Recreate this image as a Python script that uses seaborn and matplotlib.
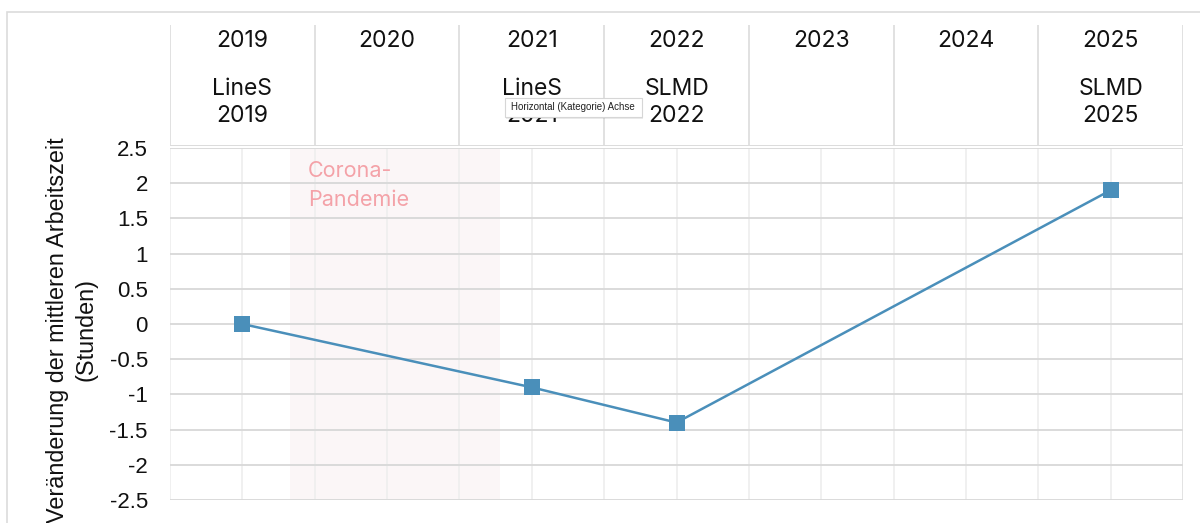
import matplotlib
matplotlib.use("Agg")
import matplotlib.pyplot as plt
from matplotlib.patches import Rectangle, FancyBboxPatch
import seaborn as sns
import pandas as pd

# Categories (survey years) and the survey behind each year
years = ["2019", "2020", "2021", "2022", "2023", "2024", "2025"]
survey_labels = ["LineS\n2019", "", "LineS\n2021", "SLMD\n2022", "", "", "SLMD\n2025"]

# Change in mean working time (hours) for the years with a survey
obs_years = ["2019", "2021", "2022", "2025"]
change_hours = [0.0, -0.9, -1.4, 1.9]

# Pandemic period on the category axis (fractional category positions)
pandemic_span = [2019.33, 2020.78]
pandemic_label = "Corona-\nPandemie"

y_ticks = [-2.5, -2, -1.5, -1, -0.5, 0, 0.5, 1, 1.5, 2, 2.5]
y_label = "Veränderung der mittleren Arbeitszeit\n(Stunden)"

sns.set_theme(style="white")
plt.rcParams["font.family"] = ["Liberation Sans", "DejaVu Sans"]

W, H = 1200, 523
fig = plt.figure(figsize=(W / 100, H / 100), dpi=100)

def fx(px):
    return px / W

def fy(px):
    return 1 - px / H

# outer frame
fig.patches.append(Rectangle((fx(7), fy(540)), fx(1210) - fx(7), fy(12) - fy(540),
                             transform=fig.transFigure, fill=False,
                             edgecolor="#dcdcdc", linewidth=1.2, zorder=0))

left, right, top, bottom = 170, 1183, 148, 500
ax = fig.add_axes([fx(left), fy(bottom), fx(right) - fx(left), fy(top) - fy(bottom)])

df = pd.DataFrame({
    "pos": [years.index(y) for y in obs_years],
    "change": change_hours,
})

ax.set_xlim(-0.5, len(years) - 0.5)
ax.set_ylim(-2.5, 2.5)

# pandemic shading and label
ps = [p - int(years[0]) for p in pandemic_span]
ax.axvspan(ps[0], ps[1], color="#fbf6f7", zorder=0, linewidth=0)
ax.text(ps[0] + 0.125, 2.32, pandemic_label, color="#f4a2a8", fontsize=15.5,
        va="top", ha="left", linespacing=1.6, family=["Inter", "DejaVu Sans"], zorder=1)

# grid: horizontal lines at each tick, vertical lines at centres and boundaries
for v in y_ticks:
    ax.axhline(v, color="#dadada", linewidth=1.4, zorder=0.5)
for i in range(len(years)):
    ax.axvline(i, color="#eeeeee", linewidth=1.2, zorder=0.4)
for i in range(len(years) + 1):
    ax.axvline(i - 0.5, color="#eeeeee" if i < len(years) else "#dedede",
               linewidth=1.2, zorder=0.4)

sns.lineplot(data=df, x="pos", y="change", ax=ax, color="#4a8fba", linewidth=1.8,
             marker="s", markersize=11, markeredgewidth=0, zorder=3)

ax.set_xticks([])
ax.set_yticks(y_ticks)
ax.set_yticklabels([f"{t:g}" for t in y_ticks], fontsize=16, color="#111111")
ax.tick_params(axis="y", length=0, pad=16)
ax.set_xlabel("")
ax.set_ylabel(y_label, fontsize=16.8, color="#111111", linespacing=1.3)
ax.yaxis.set_label_coords(-0.072, 0.483)
for s in ax.spines.values():
    s.set_visible(False)

# header table with years and surveys
hdr = fig.add_axes([fx(left), fy(146), fx(right) - fx(left), fy(25) - fy(146)])
hdr.set_xlim(-0.5, len(years) - 0.5)
hdr.set_ylim(0, 1)
hdr.axis("off")
for i in range(len(years) + 1):
    hdr.axvline(i - 0.5, color="#dcdcdc", linewidth=1.2)
hdr.axhline(0, color="#dcdcdc", linewidth=1.4)
hfont = ["Inter", "DejaVu Sans"]
for i, (yr, sv) in enumerate(zip(years, survey_labels)):
    hdr.text(i, 0.87, yr, ha="center", va="center", fontsize=16.5, family=hfont, color="#111111")
    if sv:
        hdr.text(i, 0.36, sv, ha="center", va="center", fontsize=16.5, family=hfont,
                 color="#111111", linespacing=1.32)

# axis tooltip
tip_x, tip_y = fx(505), fy(117)
fig.patches.append(FancyBboxPatch((tip_x + 0.001, tip_y - 0.004), fx(137), fy(98) - fy(117),
                                  boxstyle="square,pad=0", transform=fig.transFigure,
                                  facecolor="#00000014", edgecolor="none", zorder=10))
fig.patches.append(FancyBboxPatch((tip_x, tip_y), fx(137), fy(98) - fy(117),
                                  boxstyle="square,pad=0", transform=fig.transFigure,
                                  facecolor="white", edgecolor="#d6d6d6", linewidth=0.8, zorder=11))
fig.text(tip_x + fx(6), fy(107.5), "Horizontal (Kategorie) Achse", fontsize=7,
         va="center", ha="left", color="#222222", zorder=12)

fig.savefig("out.png", dpi=100)
